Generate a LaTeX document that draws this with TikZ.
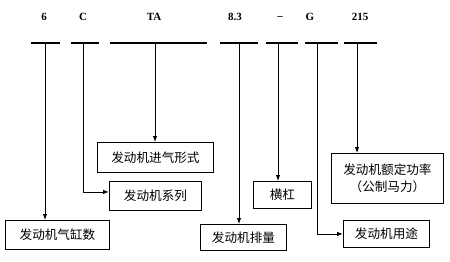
\documentclass[tikz,border=0pt]{standalone}
\usepackage{fontspec}
\setmainfont{Liberation Serif}
\newfontfamily\cjk{Noto Sans CJK SC}
\usetikzlibrary{arrows.meta, positioning}
\tikzset{
  >={Latex[length=6pt,width=4.5pt]},
  code/.style={font=\fontsize{11}{12}\selectfont\bfseries, inner sep=0pt},
  bar/.style={fill=black, draw=none, inner sep=0pt, minimum height=1.7pt, minimum width=#1},
  lead/.style={->, line width=0.9pt},
  part/.style={
    draw, line width=0.9pt, inner sep=0pt, anchor=north west, align=center,
    font=\cjk\fontsize{12.6}{17}\selectfont
  }
}
\begin{document}
\begin{tikzpicture}[x=1pt,y=-1pt]
  \useasboundingbox (0,0) rectangle (450,262);
  % model code
  \node[code] (n6)   at (44,17)  {6};
  \node[code] (nC)   at (83,17)  {C};
  \node[code] (nTA)  at (154,17) {TA};
  \node[code] (n83)  at (235,17) {8.3};
  \node[code] (ndash) at (280,18) {–};
  \node[code] (nG)   at (310,17) {G};
  \node[code] (n215) at (360,17) {215};
  % bars under the code
  \node[bar=29pt] (b6)   at (45,43)  {};
  \node[bar=28pt] (bC)   at (85,43)   {};
  \node[bar=97pt] (bTA)  at (158.5,43) {};
  \node[bar=38pt] (b83)  at (239,43)  {};
  \node[bar=32pt] (bdash) at (282,43) {};
  \node[bar=33pt] (bG)   at (321.5,43) {};
  \node[bar=33pt] (b215) at (360.5,43) {};
  % meaning of each part
  \node[part,minimum width=104pt,minimum height=29pt] (cyl)    at (5,220)   {发动机气缸数};
  \node[part,minimum width=116pt,minimum height=30pt] (intake) at (97,142)  {发动机进气形式};
  \node[part,minimum width=92pt,minimum height=29pt]  (series) at (109,181) {发动机系列};
  \node[part,minimum width=86pt,minimum height=26pt]  (disp)   at (200,224) {发动机排量};
  \node[part,minimum width=58pt,minimum height=27pt]  (bar)    at (253,181) {横杠};
  \node[part,minimum width=112pt,minimum height=50pt] (power)  at (331,153) {发动机额定功率\\（公制马力）};
  \node[part,minimum width=86pt,minimum height=27pt]  (use)    at (343,220) {发动机用途};
  % leads
  \draw[lead] (b6.south) -- (cyl.north -| b6.south);
  \draw[lead] (bC.south -| 83,0) |- ([yshift=4pt]series.west);
  \draw[lead] (bTA.south -| 155,0) -- (intake.north -| 155,0);
  \draw[lead] (b83.south) -- (disp.north -| b83.south);
  \draw[lead] (bdash.south -| 278,0) -- (bar.north -| 278,0);
  \draw[lead] (bG.south -| 317,0) |- (use.west);
  \draw[lead] (b215.south -| 357,0) -- (power.north -| 357,0);
\end{tikzpicture}
\end{document}
